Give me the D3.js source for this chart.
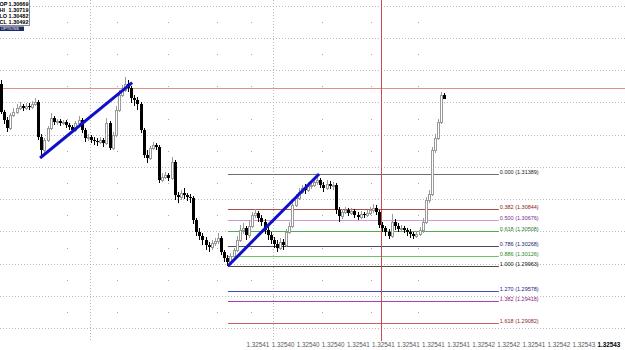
<!DOCTYPE html>
<html lang="en">
<head>
<meta charset="utf-8">
<script src="https://cdnjs.cloudflare.com/ajax/libs/d3/7.8.5/d3.min.js"></script>
<style>
  body { margin: 0; background: #fff; }
  svg { display: block; }
</style>
</head>
<body>
<script>
var w = 625, h = 350;

// bars (open of each bar = previous close)
var firstOpen = 1.32785;
var closes = [
  1.32351,1.32227,1.32103,1.32304,1.32351,1.32413,1.32444,1.32413,1.32444,1.32428,
  1.32475,1.32506,1.31963,1.31762,1.31917,1.32103,1.32258,1.32196,1.32211,1.32180,
  1.32196,1.32149,1.32118,1.32072,1.32180,1.32227,1.32072,1.31948,1.31963,1.31917,
  1.31901,1.31886,1.31917,1.31870,1.32180,1.31793,1.31994,1.32382,1.32614,1.32692,
  1.32785,1.32723,1.32568,1.32537,1.32475,1.32072,1.31684,1.31638,1.31793,1.31839,
  1.31808,1.31297,1.31343,1.31374,1.31328,1.31576,1.31064,1.31033,1.31095,1.31064,
  1.31033,1.31018,1.30677,1.30491,1.30429,1.30367,1.30289,1.30258,1.30320,1.30351,
  1.30398,1.30181,1.30088,1.30026,1.30119,1.30212,1.30367,1.30522,1.30553,1.30444,
  1.30584,1.30754,1.30785,1.30708,1.30646,1.30522,1.30444,1.30367,1.30305,1.30243,
  1.30336,1.30289,1.30491,1.30584,1.30909,1.31018,1.31111,1.31173,1.31142,1.31204,
  1.31219,1.31266,1.31297,1.31219,1.31173,1.31235,1.31204,1.31219,1.30832,1.30739,
  1.30801,1.30832,1.30785,1.30816,1.30754,1.30723,1.30770,1.30754,1.30785,1.30832,
  1.30863,1.30801,1.30599,1.30553,1.30491,1.30429,1.30646,1.30584,1.30537,1.30553,
  1.30522,1.30491,1.30460,1.30429,1.30460,1.30522,1.30646,1.30987,1.31080,1.31762,
  1.31948,1.32196,1.32614,1.32552
];
var highs = [
  1.32847,1.32382,1.32273,1.32335,1.32413,1.32475,1.32506,1.32475,1.32490,1.32490,
  1.32521,1.32568,1.32537,1.32010,1.31948,1.32134,1.32335,1.32289,1.32242,1.32242,
  1.32227,1.32227,1.32180,1.32149,1.32211,1.32289,1.32258,1.32103,1.32010,1.31994,
  1.31963,1.31948,1.31963,1.31948,1.32258,1.32211,1.32041,1.32444,1.32692,1.32769,
  1.32894,1.32847,1.32754,1.32614,1.32583,1.32506,1.32103,1.31762,1.31824,1.31886,
  1.31870,1.31839,1.31405,1.31421,1.31405,1.31653,1.31607,1.31111,1.31142,1.31173,
  1.31095,1.31080,1.31049,1.30708,1.30553,1.30475,1.30413,1.30336,1.30367,1.30398,
  1.30475,1.30429,1.30212,1.30134,1.30165,1.30243,1.30429,1.30599,1.30630,1.30584,
  1.30677,1.30801,1.30847,1.30816,1.30754,1.30692,1.30568,1.30491,1.30413,1.30367,
  1.30398,1.30382,1.30537,1.30646,1.30956,1.31080,1.31173,1.31219,1.31235,1.31266,
  1.31281,1.31328,1.31359,1.31328,1.31266,1.31297,1.31281,1.31266,1.31250,1.30878,
  1.30847,1.30878,1.30863,1.30863,1.30847,1.30801,1.30816,1.30801,1.30832,1.30878,
  1.30925,1.30909,1.30832,1.30646,1.30584,1.30537,1.30770,1.30692,1.30630,1.30599,
  1.30584,1.30553,1.30537,1.30491,1.30506,1.30568,1.30708,1.31033,1.31142,1.31808,
  1.32010,1.32242,1.32661,1.32645
];
var lows = [
  1.32320,1.32165,1.32041,1.32072,1.32273,1.32320,1.32382,1.32366,1.32382,1.32382,
  1.32397,1.32444,1.31917,1.31653,1.31715,1.31886,1.32072,1.32149,1.32149,1.32134,
  1.32149,1.32103,1.32072,1.32041,1.32041,1.32165,1.32025,1.31886,1.31901,1.31870,
  1.31839,1.31824,1.31855,1.31808,1.31839,1.31762,1.31762,1.31963,1.32351,1.32583,
  1.32661,1.32661,1.32490,1.32444,1.32382,1.32025,1.31638,1.31560,1.31607,1.31762,
  1.31762,1.31250,1.31266,1.31312,1.31281,1.31297,1.30987,1.30940,1.30987,1.31002,
  1.30971,1.30940,1.30615,1.30429,1.30367,1.30289,1.30212,1.30181,1.30212,1.30274,
  1.30305,1.30134,1.30026,1.29964,1.29995,1.30072,1.30181,1.30336,1.30460,1.30367,
  1.30398,1.30553,1.30708,1.30646,1.30584,1.30460,1.30367,1.30305,1.30243,1.30181,
  1.30212,1.30212,1.30258,1.30460,1.30553,1.30878,1.30987,1.31080,1.31080,1.31111,
  1.31157,1.31188,1.31219,1.31173,1.31111,1.31142,1.31157,1.31142,1.30770,1.30646,
  1.30692,1.30770,1.30739,1.30754,1.30708,1.30677,1.30692,1.30708,1.30723,1.30754,
  1.30785,1.30754,1.30553,1.30491,1.30429,1.30382,1.30398,1.30522,1.30491,1.30491,
  1.30475,1.30429,1.30398,1.30382,1.30398,1.30429,1.30475,1.30615,1.30940,1.31049,
  1.31715,1.31917,1.32165,1.32583
];

// fibonacci retracement
var fibRatios = ["0.000", "0.382", "0.500", "0.618", "0.786", "0.886", "1.000", "1.270", "1.382", "1.618"];
var fibPrices = [1.31389, 1.30844, 1.30676, 1.30508, 1.30268, 1.30126, 1.29963, 1.29578, 1.29418, 1.29082];
var fibFrom = 73.2, fibTo = 160.6;   // bar positions

// blue trend lines: [bar, price] pairs
var trendLines = [
  [[12.6, 1.31638], [42.3, 1.32805]],
  [[73.2, 1.29963], [102.6, 1.31389]]
];

var bidPrice = 1.32723;
var cursorBar = 122.6;
var dayBars = [28.7, 87.7];
var dotBars = [21.3, 37.4, 53.9, 69.7, 80.6, 103.5, 119.4, 134.5];

var axisLabels = ["1.32541", "1.32540", "1.32540", "1.32540", "1.32541", "1.32541", "1.32541",
  "1.32541", "1.32541", "1.32542", "1.32542", "1.32541", "1.32542", "1.32543", "1.32543"];

var infoNames = ["OP", "HI", "LO", "CL"];
var infoValues = ["1.30669", "1.30719", "1.30482", "1.30492"];

// styles
var fibLineColors = ["#707070", "#a85050", "#c99ad6", "#50ae50", "#484868", "#6cc06c", "#4a4a4a", "#4848c0", "#a840b0", "#c86060"];
var fibTextColors = ["#222222", "#8a2020", "#7a2a8a", "#2a7a2a", "#20207a", "#2a8a2a", "#111111", "#20207a", "#8a208a", "#8a2828"];
var font = "'Liberation Sans', Arial, sans-serif";

var svg = d3.select("body").append("svg")
  .attr("width", w)
  .attr("height", h)
  .style("background", "#fff");

var x = d3.scaleLinear().domain([0, closes.length - 1]).range([1, 444.3]);
var y = d3.scaleLinear().domain([1.28662, 1.34087]).range([h, 0]);

// grid
var ticks = y.ticks(10);
svg.append("g").selectAll("line")
  .data(ticks)
  .join("line")
  .attr("x1", 0).attr("x2", w)
  .attr("y1", d => Math.round(y(d)) + 0.5)
  .attr("y2", d => Math.round(y(d)) + 0.5)
  .attr("stroke", "#b8b8b8")
  .attr("stroke-dasharray", "1,2");

svg.append("g").selectAll("line")
  .data(dayBars)
  .join("line")
  .attr("x1", d => Math.round(x(d)) + 0.5)
  .attr("x2", d => Math.round(x(d)) + 0.5)
  .attr("y1", 0).attr("y2", 340)
  .attr("stroke", "#b8b8b8")
  .attr("stroke-dasharray", "1,2");

// faint dots between grid rows
var dots = [];
ticks.forEach(function (t) {
  dotBars.forEach(function (b) { dots.push({ b: b, p: t + 0.0025 }); });
});
svg.append("g").selectAll("rect")
  .data(dots.filter(d => y(d.p) > 2 && y(d.p) < 335))
  .join("rect")
  .attr("x", d => Math.round(x(d.b)))
  .attr("y", d => Math.round(y(d.p)))
  .attr("width", 1).attr("height", 1)
  .attr("fill", "#a8a8a8");

// fibonacci levels
var fib = svg.append("g");
fib.selectAll("line")
  .data(fibPrices)
  .join("line")
  .attr("x1", x(fibFrom)).attr("x2", x(fibTo))
  .attr("y1", d => Math.round(y(d)) + 0.5)
  .attr("y2", d => Math.round(y(d)) + 0.5)
  .attr("stroke", (d, i) => fibLineColors[i]);

fib.selectAll("text")
  .data(fibPrices)
  .join("text")
  .attr("x", x(fibTo) + 1)
  .attr("y", d => Math.round(y(d)) - 0.5)
  .attr("font-family", font)
  .attr("font-size", "5.5px")
  .attr("fill", (d, i) => fibTextColors[i])
  .text((d, i) => fibRatios[i] + " (" + d.toFixed(5) + ")");

// bid line and cursor
svg.append("line")
  .attr("x1", 0).attr("x2", w)
  .attr("y1", Math.round(y(bidPrice)) + 0.5)
  .attr("y2", Math.round(y(bidPrice)) + 0.5)
  .attr("stroke", "#dc9090");

svg.append("line")
  .attr("x1", Math.round(x(cursorBar)) + 0.5)
  .attr("x2", Math.round(x(cursorBar)) + 0.5)
  .attr("y1", 0).attr("y2", 341)
  .attr("stroke", "#cc4a4a");

// candles
var bars = closes.map(function (c, i) {
  return { i: i, o: i ? closes[i - 1] : firstOpen, h: highs[i], l: lows[i], c: c };
});

var candles = svg.append("g");
candles.selectAll("line")
  .data(bars)
  .join("line")
  .attr("x1", d => Math.round(x(d.i)) + 0.5)
  .attr("x2", d => Math.round(x(d.i)) + 0.5)
  .attr("y1", d => y(d.h))
  .attr("y2", d => y(d.l))
  .attr("stroke", d => d.c >= d.o ? "#9a9a9a" : "#000");

candles.selectAll("rect.bear")
  .data(bars.filter(d => d.c < d.o))
  .join("rect")
  .attr("class", "bear")
  .attr("x", d => Math.round(x(d.i)) - 1)
  .attr("y", d => y(d.o))
  .attr("width", 3)
  .attr("height", d => Math.max(1, y(d.c) - y(d.o)))
  .attr("fill", "#000");

candles.selectAll("rect.bull")
  .data(bars.filter(d => d.c >= d.o))
  .join("rect")
  .attr("class", "bull")
  .attr("x", d => Math.round(x(d.i)) - 0.5)
  .attr("y", d => Math.round(y(d.c)) + 0.5)
  .attr("width", 2)
  .attr("height", d => Math.max(1, Math.round(y(d.o)) - Math.round(y(d.c))))
  .attr("fill", "#fff")
  .attr("stroke", "#9a9a9a");

// trend lines
svg.append("g").selectAll("line")
  .data(trendLines)
  .join("line")
  .attr("x1", d => x(d[0][0])).attr("y1", d => y(d[0][1]))
  .attr("x2", d => x(d[1][0])).attr("y2", d => y(d[1][1]))
  .attr("stroke", "#1010c8")
  .attr("stroke-width", 3);

// bottom labels
var lx = d3.scalePoint().domain(d3.range(axisLabels.length)).range([258, 609]);
svg.append("g").selectAll("text")
  .data(axisLabels)
  .join("text")
  .attr("x", (d, i) => lx(i))
  .attr("y", 347)
  .attr("text-anchor", "middle")
  .attr("font-family", font)
  .attr("font-size", "6.3px")
  .attr("font-weight", (d, i) => i == axisLabels.length - 1 ? "bold" : "normal")
  .attr("fill", (d, i) => i == axisLabels.length - 1 ? "#000" : "#5a5a5a")
  .text(d => d);

// OHLC box
var box = svg.append("g");
box.append("rect")
  .attr("x", -0.5).attr("y", -0.5)
  .attr("width", 30).attr("height", 26)
  .attr("fill", "#fff")
  .attr("stroke", "#888");
box.selectAll("text.n")
  .data(infoNames)
  .join("text")
  .attr("class", "n")
  .attr("x", -0.5)
  .attr("y", (d, i) => 5.5 + i * 6)
  .attr("font-family", font)
  .attr("font-size", "5.5px")
  .attr("font-weight", "bold")
  .text(d => d);
box.selectAll("text.v")
  .data(infoValues)
  .join("text")
  .attr("class", "v")
  .attr("x", 28.5)
  .attr("y", (d, i) => 5.5 + i * 6)
  .attr("text-anchor", "end")
  .attr("font-family", font)
  .attr("font-size", "5.5px")
  .attr("font-weight", "bold")
  .text(d => d);
box.append("rect")
  .attr("x", 0).attr("y", 26.5)
  .attr("width", 24).attr("height", 4.5)
  .attr("fill", "#1c2a66");
box.append("text")
  .attr("x", 1).attr("y", 30.3)
  .attr("font-family", font)
  .attr("font-size", "4px")
  .attr("fill", "#fff")
  .text("OPTIONS");
</script>
</body>
</html>
